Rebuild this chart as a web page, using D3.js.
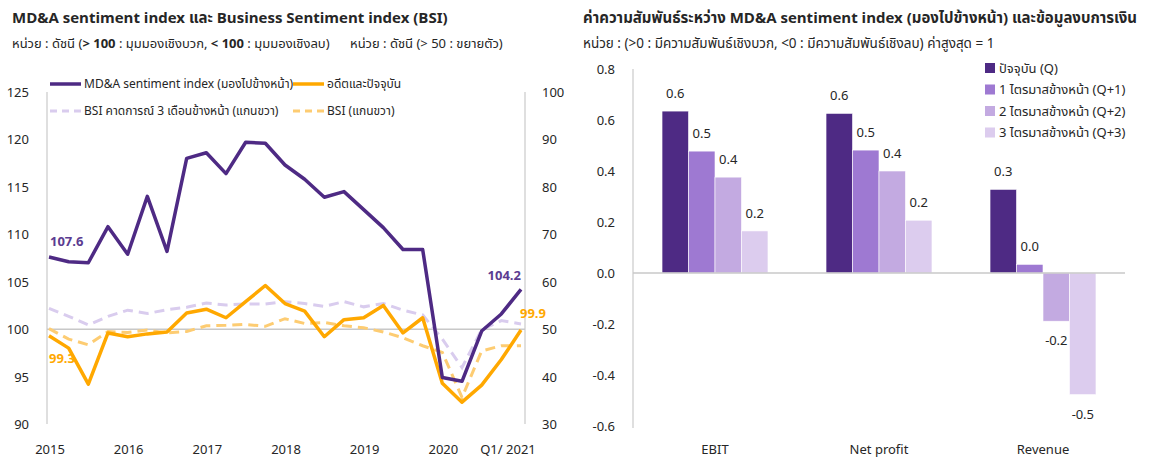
<!DOCTYPE html>
<html>
<head>
<meta charset="utf-8">
<script src="https://cdn.jsdelivr.net/npm/d3@7"></script>
<style>
  body { margin: 0; background: #fff; }
  svg text { font-family: Tahoma, "Noto Sans Thai", "Noto Sans", "DejaVu Sans", sans-serif; fill: #262626; }
</style>
</head>
<body>
<svg id="chart" width="1161" height="459"></svg>
<script>
// ---- data: left chart (quarterly, Q1/2015 .. Q1/2021)
var quarters = d3.range(25);
var yearLabels = ["2015", "2016", "2017", "2018", "2019", "2020", "Q1/ 2021"];
var yearTickIdx = [0, 4, 8, 12, 16, 20, 24];

var mdaForward = [107.6, 107.1, 107.0, 110.8, 107.9, 114.0, 108.2, 118.0, 118.6, 116.4, 119.7, 119.6, 117.3,
                  115.8, 113.9, 114.5, 112.6, 110.7, 108.4, 108.4, 94.9, 94.5, 99.8, 101.6, 104.2];
var mdaPast = [99.3, 98.0, 94.2, 99.6, 99.2, 99.5, 99.7, 101.7, 102.1, 101.2, 102.9, 104.6, 102.7,
               101.9, 99.2, 101.0, 101.2, 102.5, 99.6, 101.2, 94.3, 92.3, 94.1, 96.8, 99.9];
var bsiExpect = [54.4, 52.7, 50.9, 52.7, 54.0, 53.3, 54.1, 54.6, 55.5, 55.1, 55.3, 55.3, 55.8,
                 55.4, 54.8, 55.8, 54.7, 55.4, 54.0, 53.0, 47.9, 41.9, 49.9, 51.8, 51.1];
var bsi = [50.1, 47.9, 46.7, 49.5, 49.3, 49.8, 49.2, 49.5, 50.7, 50.8, 51.0, 50.6, 52.2,
           51.2, 51.4, 50.7, 50.3, 49.4, 48.2, 46.5, 45.1, 35.6, 45.4, 46.5, 46.5];
var leftTicks = [90, 95, 100, 105, 110, 115, 120, 125];
var rightTicks = [30, 40, 50, 60, 70, 80, 90, 100];

// ---- data: right chart
var metrics = ["EBIT", "Net profit", "Revenue"];
var horizons = ["ปัจจุบัน (Q)", "1 ไตรมาสข้างหน้า (Q+1)", "2 ไตรมาสข้างหน้า (Q+2)", "3 ไตรมาสข้างหน้า (Q+3)"];
var corrQ  = [0.635, 0.626, 0.328];
var corrQ1 = [0.478, 0.482, 0.034];
var corrQ2 = [0.376, 0.400, -0.189];
var corrQ3 = [0.165, 0.207, -0.477];
var corrTicks = [-0.6, -0.4, -0.2, 0.0, 0.2, 0.4, 0.6, 0.8];

var purple = "#4E2A84", orange = "#FFA800", lav = "#D9CCEE", lightOrange = "#FDCC72";
var barColors = ["#4E2A84", "#9E79D2", "#C3AAE1", "#DCCCEE"];

var svg = d3.select("#chart");

// ================= LEFT CHART =================
svg.append("text").attr("x", 12).attr("y", 23)
  .style("font-size", "15px").style("font-weight", "bold")
  .text("MD&A sentiment index และ Business Sentiment index (BSI)");

var sub1 = svg.append("text").attr("x", 12).attr("y", 48).style("font-size", "13px");
sub1.append("tspan").text("หน่วย : ดัชนี (");
sub1.append("tspan").style("font-weight", "bold").text("> 100");
sub1.append("tspan").text(" : มุมมองเชิงบวก, ");
sub1.append("tspan").style("font-weight", "bold").text("< 100");
sub1.append("tspan").text(" : มุมมองเชิงลบ)");
svg.append("text").attr("x", 350).attr("y", 48).style("font-size", "13px")
  .text("หน่วย : ดัชนี (> 50 : ขยายตัว)");

var x = d3.scalePoint().domain(quarters).range([49, 521]);
var yL = d3.scaleLinear().domain([90, 125]).range([424, 92]);
var yR = d3.scaleLinear().domain([30, 100]).range([424, 92]);

var left = svg.append("g");

// axis lines
left.append("line").attr("x1", 47).attr("x2", 47).attr("y1", yL(125)).attr("y2", yL(90))
  .attr("stroke", "#BFBFBF").attr("stroke-width", 1);
left.append("line").attr("x1", 525).attr("x2", 525).attr("y1", yL(125)).attr("y2", yL(90))
  .attr("stroke", "#BFBFBF").attr("stroke-width", 1);
left.append("line").attr("x1", 47).attr("x2", 525).attr("y1", yL(100)).attr("y2", yL(100))
  .attr("stroke", "#C8C8C8").attr("stroke-width", 1.5);

left.selectAll(".tl").data(leftTicks).enter().append("text")
  .attr("x", 29).attr("y", function(d) { return yL(d) + 5; })
  .attr("text-anchor", "end").style("font-size", "13px").text(function(d) { return d; });
left.selectAll(".tr").data(rightTicks).enter().append("text")
  .attr("x", 542).attr("y", function(d) { return yR(d) + 5; })
  .style("font-size", "13px").text(function(d) { return d; });
left.selectAll(".tx").data(yearTickIdx).enter().append("text")
  .attr("x", function(d, i) { return i === yearTickIdx.length - 1 ? x(d) - 13 : x(d) + 1; })
  .attr("y", 454).attr("text-anchor", "middle").style("font-size", "13px")
  .text(function(d, i) { return yearLabels[i]; });

var lineL = d3.line().x(function(d, i) { return x(i); }).y(function(d) { return yL(d); });
var lineR = d3.line().x(function(d, i) { return x(i); }).y(function(d) { return yR(d); });

left.append("path").datum(bsiExpect).attr("d", lineR).attr("fill", "none")
  .attr("stroke", lav).attr("stroke-width", 3).attr("stroke-dasharray", "10,6");
left.append("path").datum(bsi).attr("d", lineR).attr("fill", "none")
  .attr("stroke", lightOrange).attr("stroke-width", 3).attr("stroke-dasharray", "10,6");
left.append("path").datum(mdaPast).attr("d", lineL).attr("fill", "none")
  .attr("stroke", orange).attr("stroke-width", 3.5).attr("stroke-linejoin", "round");
left.append("path").datum(mdaForward).attr("d", lineL).attr("fill", "none")
  .attr("stroke", purple).attr("stroke-width", 3.5).attr("stroke-linejoin", "round");

// end labels
left.append("text").attr("x", x(0) + 1).attr("y", yL(mdaForward[0]) - 11)
  .style("font-size", "13px").style("font-weight", "bold").style("fill", "#5B3C91")
  .text(mdaForward[0].toFixed(1));
left.append("text").attr("x", x(24)).attr("y", yL(mdaForward[24]) - 9).attr("text-anchor", "end")
  .style("font-size", "13px").style("font-weight", "bold").style("fill", "#5B3C91")
  .text(mdaForward[24].toFixed(1));
left.append("text").attr("x", x(0) + 13).attr("y", yL(mdaPast[0]) + 27).attr("text-anchor", "middle")
  .style("font-size", "13px").style("font-weight", "bold").style("fill", orange)
  .text(mdaPast[0].toFixed(1));
left.append("text").attr("x", x(24) - 1).attr("y", yL(mdaPast[24]) - 12)
  .style("font-size", "13px").style("font-weight", "bold").style("fill", orange)
  .text(mdaPast[24].toFixed(1));

// legend
var legL = [
  {t: "MD&A sentiment index (มองไปข้างหน้า)", c: purple, dash: null, w: 3.5, x: 50, y: 84},
  {t: "อดีตและปัจจุบัน", c: orange, dash: null, w: 3.5, x: 293, y: 84},
  {t: "BSI คาดการณ์ 3 เดือนข้างหน้า (แกนขวา)", c: lav, dash: "7,5", w: 3, x: 50, y: 111},
  {t: "BSI (แกนขวา)", c: lightOrange, dash: "7,5", w: 3, x: 293, y: 111}
];
var lg = left.selectAll(".lg").data(legL).enter().append("g");
lg.append("line").attr("x1", function(d) { return d.x; }).attr("x2", function(d) { return d.x + 31; })
  .attr("y1", function(d) { return d.y; }).attr("y2", function(d) { return d.y; })
  .attr("stroke", function(d) { return d.c; }).attr("stroke-width", function(d) { return d.w; })
  .attr("stroke-dasharray", function(d) { return d.dash; });
lg.append("text").attr("x", function(d) { return d.x + 34; }).attr("y", function(d) { return d.y + 4; })
  .style("font-size", "12px").text(function(d) { return d.t; });

// ================= RIGHT CHART =================
svg.append("text").attr("x", 583).attr("y", 23)
  .style("font-size", "15px").style("font-weight", "bold")
  .text("ค่าความสัมพันธ์ระหว่าง MD&A sentiment index (มองไปข้างหน้า) และข้อมูลงบการเงิน");
svg.append("text").attr("x", 583).attr("y", 48).style("font-size", "13.5px")
  .text("หน่วย : (>0 : มีความสัมพันธ์เชิงบวก, <0 : มีความสัมพันธ์เชิงลบ) ค่าสูงสุด = 1");

var x0 = d3.scaleBand().domain(metrics).range([633, 1125]).paddingInner(0.354).paddingOuter(0.177);
var x1 = d3.scaleBand().domain(d3.range(4)).range([0, x0.bandwidth()]);
var yB = d3.scaleLinear().domain([-0.6, 0.8]).range([426, 69]);

var right = svg.append("g");
right.append("line").attr("x1", 633).attr("x2", 633).attr("y1", yB(0.8)).attr("y2", yB(-0.6) + 2)
  .attr("stroke", "#BFBFBF");

right.selectAll(".ty").data(corrTicks).enter().append("text")
  .attr("x", 615).attr("y", function(d) { return yB(d) + 5; }).attr("text-anchor", "end")
  .style("font-size", "13px").text(function(d) { return d.toFixed(1); });
right.selectAll(".tx").data(metrics).enter().append("text")
  .attr("x", function(d) { return x0(d) + x0.bandwidth() / 2; }).attr("y", 454)
  .attr("text-anchor", "middle").style("font-size", "13px").text(function(d) { return d; });

var series = [corrQ, corrQ1, corrQ2, corrQ3];
var cells = [];
metrics.forEach(function(m, mi) {
  series.forEach(function(s, si) { cells.push({m: m, s: si, v: s[mi]}); });
});

right.selectAll(".bar").data(cells).enter().append("rect")
  .attr("x", function(d) { return x0(d.m) + x1(d.s); })
  .attr("width", x1.bandwidth())
  .attr("y", function(d) { return yB(Math.max(0, d.v)); })
  .attr("height", function(d) { return Math.abs(yB(d.v) - yB(0)); })
  .attr("fill", function(d) { return barColors[d.s]; })
  .attr("stroke", "#fff").attr("stroke-width", 0.6);

right.append("line").attr("x1", 633).attr("x2", 1125).attr("y1", yB(0)).attr("y2", yB(0))
  .attr("stroke", "#C8C8C8").attr("stroke-width", 1.5);

right.selectAll(".bl").data(cells).enter().append("text")
  .attr("x", function(d) { return x0(d.m) + x1(d.s) + x1.bandwidth() / 2; })
  .attr("y", function(d) { return d.v >= 0 ? yB(d.v) - 13 : yB(d.v) + 24; })
  .attr("text-anchor", "middle").style("font-size", "13px")
  .text(function(d) { return d3.format(".1f")(d.v); });

var lgR = right.selectAll(".lgr").data(horizons).enter().append("g")
  .attr("transform", function(d, i) { return "translate(985," + (68 + i * 21.5) + ")"; });
lgR.append("rect").attr("x", 0).attr("y", -5).attr("width", 10).attr("height", 10)
  .attr("fill", function(d, i) { return barColors[i]; });
lgR.append("text").attr("x", 14).attr("y", 4.5).style("font-size", "13px").text(function(d) { return d; });
</script>
</body>
</html>
